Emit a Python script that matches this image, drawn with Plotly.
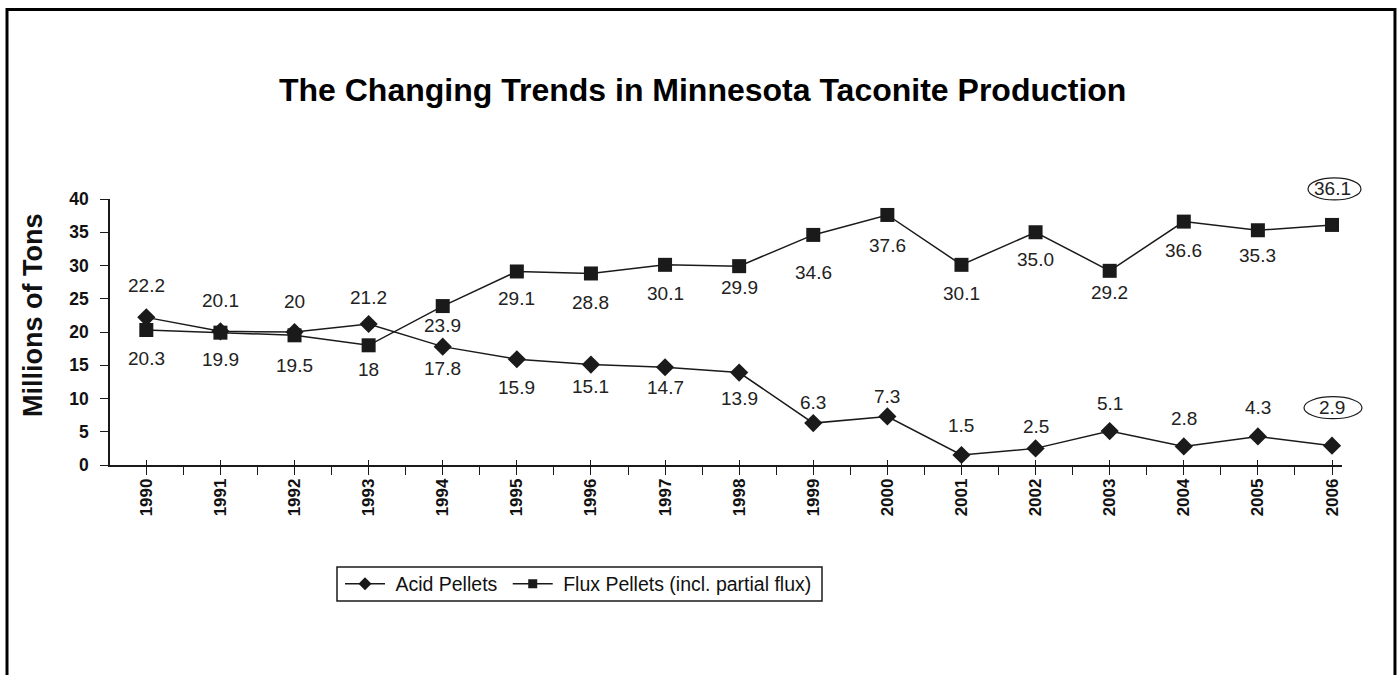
import plotly.graph_objects as go

# ---------------- data ----------------
years = ["1990", "1991", "1992", "1993", "1994", "1995", "1996", "1997", "1998",
         "1999", "2000", "2001", "2002", "2003", "2004", "2005", "2006"]
acid = [22.2, 20.1, 20, 21.2, 17.8, 15.9, 15.1, 14.7, 13.9, 6.3, 7.3, 1.5, 2.5, 5.1, 2.8, 4.3, 2.9]
flux = [20.3, 19.9, 19.5, 18, 23.9, 29.1, 28.8, 30.1, 29.9, 34.6, 37.6, 30.1, 35.0, 29.2, 36.6, 35.3, 36.1]
acid_text = ["22.2", "20.1", "20", "21.2", "17.8", "15.9", "15.1", "14.7", "13.9",
             "6.3", "7.3", "1.5", "2.5", "5.1", "2.8", "4.3", "2.9"]
flux_text = ["20.3", "19.9", "19.5", "18", "23.9", "29.1", "28.8", "30.1", "29.9",
             "34.6", "37.6", "30.1", "35.0", "29.2", "36.6", "35.3", "36.1"]
y_ticks = [0, 5, 10, 15, 20, 25, 30, 35, 40]

# ---------------- style ----------------
FONT = "Liberation Sans, Arial, sans-serif"
INK = "#1a1a1a"
# label offsets in pixels (positive = above the point)
acid_shift = [32, 31, 31, 27, -22, -28, -22, -20, -26, 21, 20, 30, 22, 28, 28, 29, 38]
flux_shift = [-28, -27, -30, -24, -19, -27, -29, -29, -21, -38, -31, -29, -27, -22, -29, -25, 36]

X_RANGE = [-0.49, 16.135]
Y_RANGE = [0, 40]
xpos = list(range(len(years)))


def xpaper(v):
    return (v - X_RANGE[0]) / (X_RANGE[1] - X_RANGE[0])


def ypaper(v):
    return (v - Y_RANGE[0]) / (Y_RANGE[1] - Y_RANGE[0])


fig = go.Figure()
fig.add_trace(go.Scatter(
    x=xpos, y=acid, mode="lines+markers", name="Acid Pellets", showlegend=False,
    line=dict(color=INK, width=1.5),
    marker=dict(symbol="diamond", size=14, color=INK)))
fig.add_trace(go.Scatter(
    x=xpos, y=flux, mode="lines+markers", name="Flux Pellets (incl. partial flux)", showlegend=False,
    line=dict(color=INK, width=1.5),
    marker=dict(symbol="square", size=14, color=INK)))
# legend entries with smaller markers
fig.add_trace(go.Scatter(
    x=[None], y=[None], mode="lines+markers", name="\u00a0Acid Pellets\u00a0",
    line=dict(color=INK, width=1.5), marker=dict(symbol="diamond", size=10, color=INK)))
fig.add_trace(go.Scatter(
    x=[None], y=[None], mode="lines+markers", name="\u00a0Flux Pellets (incl. partial flux)",
    line=dict(color=INK, width=1.5), marker=dict(symbol="square", size=9, color=INK)))
# helper trace for crossing tick marks
fig.add_trace(go.Scatter(x=[None], y=[None], xaxis="x2", showlegend=False, hoverinfo="skip"))

annotations = []
for i in xpos:
    annotations.append(dict(x=i, y=acid[i], xref="x", yref="y", text=acid_text[i],
                            showarrow=False, yshift=acid_shift[i],
                            font=dict(family=FONT, size=19, color="#222")))
    annotations.append(dict(x=i, y=flux[i], xref="x", yref="y", text=flux_text[i],
                            showarrow=False, yshift=flux_shift[i],
                            font=dict(family=FONT, size=19, color="#222")))

annotations.append(dict(x=-0.0625, y=0.56, xref="paper", yref="paper", text="Millions of Tons",
                        textangle=-90, showarrow=False, xanchor="center", yanchor="middle",
                        font=dict(family=FONT, size=27, color="#111", weight="bold")))

last = len(years) - 1
shapes = [
    # outer frame
    dict(type="rect", xref="paper", yref="paper", x0=-0.0836, x1=1.0430, y0=-0.95, y1=1.7124,
         line=dict(color="black", width=3), fillcolor="rgba(0,0,0,0)", layer="above"),
    # legend box
    dict(type="rect", xref="paper", yref="paper",
         x0=(337 - 110) / 1232, x1=(822 - 110) / 1232,
         y0=(465 - 601) / 266, y1=(465 - 567) / 266,
         line=dict(color=INK, width=1.5), fillcolor="rgba(0,0,0,0)"),
    # ellipses around the last labels
    dict(type="circle", xref="paper", yref="paper", xsizemode="pixel", ysizemode="pixel",
         xanchor=xpaper(xpos[last]), yanchor=ypaper(flux[last]), x0=-24, x1=29,
         y0=flux_shift[last] - 11, y1=flux_shift[last] + 11, line=dict(color=INK, width=1.2)),
    dict(type="circle", xref="paper", yref="paper", xsizemode="pixel", ysizemode="pixel",
         xanchor=xpaper(xpos[last]), yanchor=ypaper(acid[last]), x0=-28, x1=30,
         y0=acid_shift[last] - 11, y1=acid_shift[last] + 11, line=dict(color=INK, width=1.2)),
]

fig.update_layout(
    width=1397, height=675,
    margin=dict(l=110, r=55, t=199, b=210),
    paper_bgcolor="white", plot_bgcolor="white",
    font=dict(family=FONT, color="#111"),
    title=dict(text="<b>The Changing Trends in Minnesota Taconite Production</b>",
               x=0.503, xref="container", xanchor="center",
               y=1 - 90 / 675, yref="container", yanchor="middle",
               font=dict(family=FONT, size=32, color="#000")),
    xaxis=dict(range=X_RANGE, tickmode="array", tickvals=xpos, ticktext=years,
               tickangle=-90, tickfont=dict(family=FONT, size=17, color="#111", weight="bold"),
               showline=True, linecolor=INK, linewidth=1.5, ticks="outside", ticklen=8,
               tickcolor=INK, tickwidth=1.2, showgrid=False, zeroline=False,
               ticklabelstandoff=-3,
               minor=dict(tick0=0.5, dtick=1, ticks="outside", ticklen=8, tickcolor=INK,
                          tickwidth=1.2, showgrid=False)),
    xaxis2=dict(overlaying="x", matches="x", anchor="y", side="bottom",
                range=X_RANGE, tickmode="array", tickvals=xpos,
                showticklabels=False, ticks="inside", ticklen=5, tickcolor=INK, tickwidth=1.2,
                showline=False, showgrid=False, zeroline=False),
    yaxis=dict(range=Y_RANGE, tickmode="array", tickvals=y_ticks,
               tickfont=dict(family=FONT, size=17.5, color="#111", weight="bold"),
               showline=True, linecolor=INK, linewidth=1.5, ticks="outside", ticklen=8,
               tickcolor=INK, tickwidth=1.2, showgrid=False, zeroline=False,
               ticklabelstandoff=8),
    legend=dict(orientation="h", x=(340 - 110) / 1232, y=(465 - 584) / 266,
                xanchor="left", yanchor="middle",
                borderwidth=0, bgcolor="rgba(0,0,0,0)",
                font=dict(family=FONT, size=19.5, color="#111"), itemwidth=40,
                tracegroupgap=0),
    annotations=annotations,
    shapes=shapes,
    showlegend=True,
)

fig.write_html("out.html", config={"displayModeBar": False},
               post_script="document.body.style.margin='0';document.body.style.overflow='hidden';")
